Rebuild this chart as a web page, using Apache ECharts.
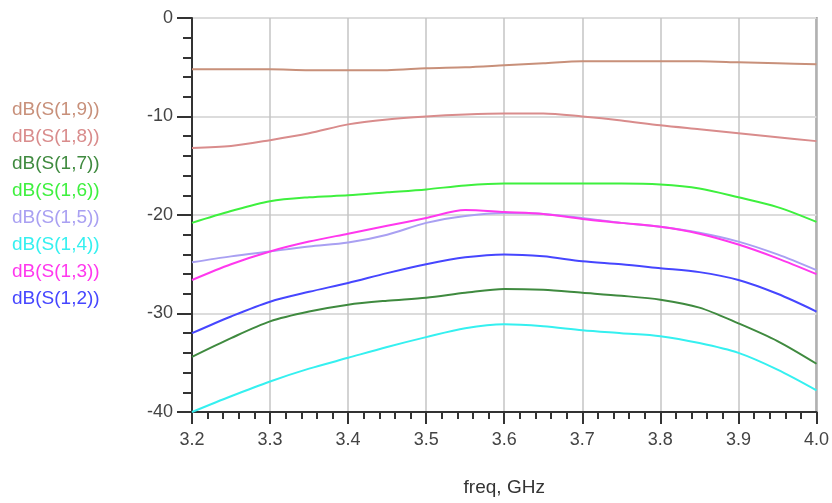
<!DOCTYPE html>
<html>
<head>
<meta charset="utf-8">
<script src="https://cdn.jsdelivr.net/npm/echarts@6/dist/echarts.min.js"></script>
<style>html,body{margin:0;padding:0;background:#fff}#c{width:832px;height:503px}</style>
</head>
<body>
<div id="c"></div>
<script>
const freq = [3.2, 3.25, 3.3, 3.35, 3.4, 3.45, 3.5, 3.55, 3.6, 3.65, 3.7, 3.75, 3.8, 3.85, 3.9, 3.95, 4.0];
const xTicks = ['3.2','3.3','3.4','3.5','3.6','3.7','3.8','3.9','4.0'];
const yTicks = [0, -10, -20, -30, -40];
const s19 = [-5.2, -5.2, -5.2, -5.3, -5.3, -5.3, -5.1, -5.0, -4.8, -4.6, -4.4, -4.4, -4.4, -4.4, -4.5, -4.6, -4.7];
const s18 = [-13.2, -13.0, -12.4, -11.7, -10.8, -10.3, -10.0, -9.8, -9.7, -9.7, -10.0, -10.4, -10.9, -11.3, -11.7, -12.1, -12.5];
const s17 = [-34.4, -32.5, -30.8, -29.8, -29.1, -28.7, -28.4, -27.9, -27.5, -27.6, -27.9, -28.2, -28.6, -29.4, -31.0, -32.8, -35.1];
const s16 = [-20.8, -19.6, -18.6, -18.2, -18.0, -17.7, -17.4, -17.0, -16.8, -16.8, -16.8, -16.8, -16.9, -17.3, -18.2, -19.2, -20.7];
const s15 = [-24.8, -24.2, -23.7, -23.2, -22.8, -22.0, -20.8, -20.1, -19.8, -19.9, -20.3, -20.8, -21.2, -21.8, -22.7, -24.0, -25.6];
const s14 = [-40.0, -38.4, -36.9, -35.6, -34.5, -33.4, -32.4, -31.5, -31.1, -31.3, -31.7, -32.0, -32.3, -33.0, -34.0, -35.7, -37.8];
const s13 = [-26.6, -25.0, -23.7, -22.7, -21.9, -21.1, -20.3, -19.5, -19.7, -19.9, -20.4, -20.8, -21.2, -21.9, -23.0, -24.4, -26.0];
const s12 = [-32.0, -30.3, -28.8, -27.8, -26.9, -25.9, -25.0, -24.3, -24.0, -24.2, -24.7, -25.0, -25.4, -25.8, -26.6, -28.0, -29.8];

const names = ['dB(S(1,9))','dB(S(1,8))','dB(S(1,7))','dB(S(1,6))','dB(S(1,5))','dB(S(1,4))','dB(S(1,3))','dB(S(1,2))'];
const values = [s19, s18, s17, s16, s15, s14, s13, s12];
const colors = ['#c8907a','#d98c8c','#3f8a3f','#3ef03e','#a9a0f2','#35f0f0','#ff38ee','#4646ff'];

const chart = echarts.init(document.getElementById('c'));
const series = names.map((n, i) => ({
  name: n,
  type: 'line',
  data: freq.map((f, j) => [f, values[i][j]]),
  showSymbol: false,
  smooth: 0.3,
  lineStyle: { color: colors[i], width: 2 },
  itemStyle: { color: colors[i] },
  z: 3
}));

chart.setOption({
  animation: false,
  backgroundColor: '#fff',
  legend: {
    orient: 'vertical',
    left: 2,
    top: 95,
    icon: 'none',
    itemWidth: 0,
    itemHeight: 14,
    itemGap: 8,
    selectedMode: false,
    data: names.map((n, i) => ({ name: n, textStyle: { color: colors[i] } })),
    textStyle: { fontSize: 19, fontFamily: 'Liberation Sans, Arial, sans-serif', padding: 0 }
  },
  grid: {
    left: 192, right: 15, top: 18, bottom: 91,
    show: true, borderColor: '#777', borderWidth: 2, backgroundColor: '#fff'
  },
  xAxis: {
    type: 'value', min: 3.2, max: 4.0, interval: 0.1,
    name: 'freq, GHz', nameLocation: 'middle', nameGap: 66,
    nameTextStyle: { fontSize: 19, color: '#333', fontFamily: 'Liberation Sans, Arial, sans-serif' },
    axisLine: { onZero: false, lineStyle: { color: '#333', width: 2 } },
    axisTick: { show: true, inside: false, length: 12, lineStyle: { color: '#333', width: 2 } },
    minorTick: { show: true, splitNumber: 5, length: 7, lineStyle: { color: '#333', width: 2 } },
    axisLabel: {
      color: '#444', fontSize: 18, margin: 19, fontFamily: 'Liberation Sans Narrow, Liberation Sans, Arial, sans-serif',
      formatter: v => { const s = v.toFixed(1); return xTicks.indexOf(s) >= 0 ? s : ''; }
    },
    splitLine: { show: true, lineStyle: { color: '#c4c4c4', width: 1.5 } }
  },
  yAxis: {
    type: 'value', min: -40, max: 0, interval: 10,
    axisLine: { show: true, onZero: false, lineStyle: { color: '#333', width: 2 } },
    axisTick: { show: true, inside: false, length: 15, lineStyle: { color: '#333', width: 2 } },
    minorTick: { show: true, splitNumber: 5, length: 9, lineStyle: { color: '#333', width: 2 } },
    axisLabel: {
      color: '#444', fontSize: 18, margin: 19, fontFamily: 'Liberation Sans Narrow, Liberation Sans, Arial, sans-serif',
      formatter: v => yTicks.indexOf(v) >= 0 ? String(v) : ''
    },
    splitLine: { show: true, lineStyle: { color: '#dcdcdc', width: 2 } }
  },
  series: series
});
</script>
</body>
</html>
